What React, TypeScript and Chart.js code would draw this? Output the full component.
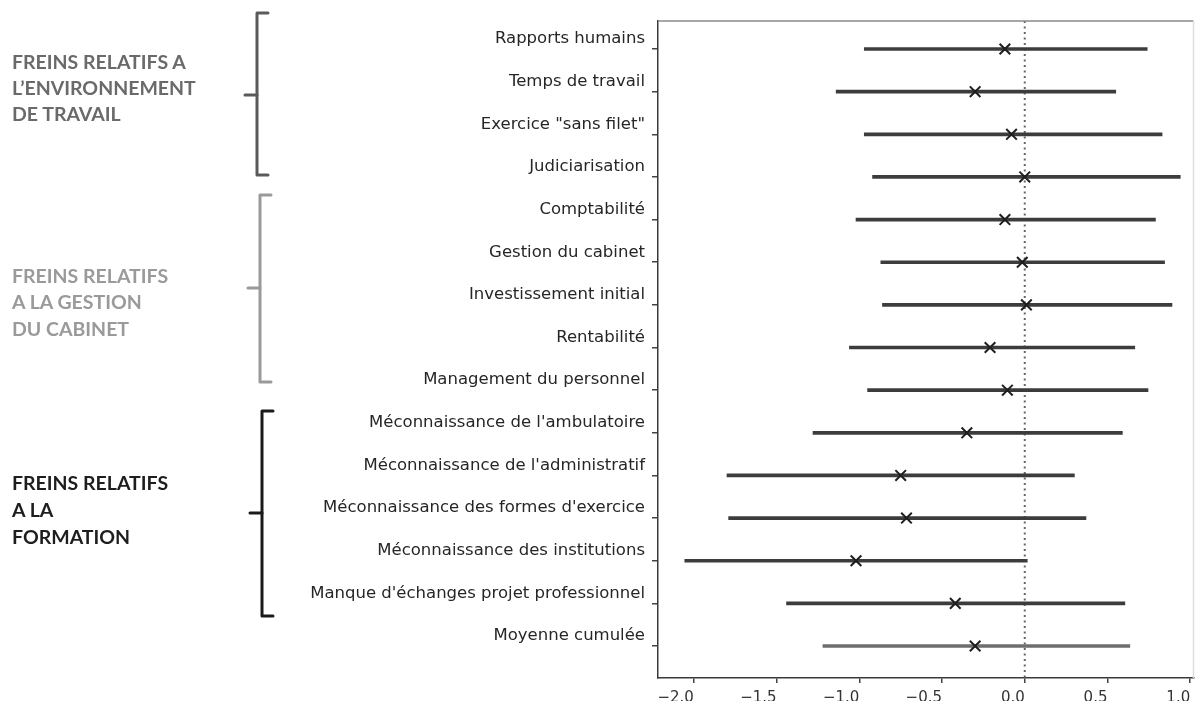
import React, { useEffect, useRef } from "react";
import { Chart, registerables } from "chart.js";

Chart.register(...registerables);

const categories = [
  "Rapports humains",
  "Temps de travail",
  'Exercice "sans filet"',
  "Judiciarisation",
  "Comptabilité",
  "Gestion du cabinet",
  "Investissement initial",
  "Rentabilité",
  "Management du personnel",
  "Méconnaissance de l'ambulatoire",
  "Méconnaissance de l'administratif",
  "Méconnaissance des formes d'exercice",
  "Méconnaissance des institutions",
  "Manque d'échanges projet professionnel",
  "Moyenne cumulée",
];
const means = [-0.12, -0.3, -0.08, 0.0, -0.12, -0.015, 0.01, -0.21, -0.105, -0.35, -0.75, -0.715, -1.02, -0.42, -0.3];
const lows = [-0.97, -1.14, -0.97, -0.92, -1.02, -0.87, -0.86, -1.06, -0.95, -1.28, -1.8, -1.79, -2.055, -1.44, -1.22];
const highs = [0.74, 0.55, 0.83, 0.94, 0.79, 0.845, 0.89, 0.665, 0.745, 0.59, 0.3, 0.37, 0.015, 0.605, 0.635];
const xTicks = [-2.0, -1.5, -1.0, -0.5, 0.0, 0.5, 1.0];

const groupLines = [
  { lines: ["FREINS RELATIFS A", "L\u2019ENVIRONNEMENT", "DE TRAVAIL"], centers: [62, 88, 114], color: "#6a6a6a" },
  { lines: ["FREINS RELATIFS", "A LA GESTION", "DU CABINET"], centers: [276, 302, 329], color: "#9a9a9a" },
  { lines: ["FREINS RELATIFS", "A LA", "FORMATION"], centers: [483, 510, 537], color: "#1e1e1e" },
];
const brackets = [
  { x: 257, top: 13, bottom: 175, mid: 95, color: "#5a5a5a" },
  { x: 260, top: 195, bottom: 382, mid: 288, color: "#9a9a9a" },
  { x: 262, top: 411, bottom: 616, mid: 513, color: "#1a1a1a" },
];

const Y_MIN = -0.657;
const Y_MAX = 14.75;

const framePlugin = {
  id: "frame",
  afterDraw(chart: any) {
    const { ctx, chartArea } = chart;
    ctx.save();
    ctx.strokeStyle = "#8a8a8a";
    ctx.lineWidth = 1.5;
    ctx.beginPath();
    ctx.moveTo(chartArea.left, chartArea.top);
    ctx.lineTo(chartArea.right, chartArea.top);
    ctx.stroke();
    ctx.strokeStyle = "#dddddd";
    ctx.beginPath();
    ctx.moveTo(chartArea.right, chartArea.top);
    ctx.lineTo(chartArea.right, chartArea.bottom);
    ctx.stroke();
    ctx.restore();
  },
};

export default function App() {
  const ref = useRef<HTMLCanvasElement | null>(null);

  useEffect(() => {
    if (!ref.current) return;
    const barData = categories.map((_, i) => ({ x: [lows[i], highs[i]], y: i }));
    const pointData = categories.map((_, i) => ({ x: means[i], y: i }));
    const barColors = categories.map((_, i) => (i === categories.length - 1 ? "#6e6e6e" : "#3c3c3c"));
    const chart = new Chart(ref.current, {
      type: "bar",
      data: {
        datasets: [
          {
            type: "scatter",
            data: [
              { x: 0, y: Y_MIN },
              { x: 0, y: Y_MAX },
            ],
            showLine: true,
            borderColor: "#666",
            borderWidth: 2,
            borderDash: [2, 3.5],
            pointRadius: 0,
            order: 3,
          } as any,
          {
            type: "bar",
            data: barData as any,
            backgroundColor: barColors,
            borderWidth: 0,
            barThickness: 3,
            order: 2,
          } as any,
          {
            type: "scatter",
            data: pointData,
            pointStyle: "crossRot",
            pointRadius: 7.5,
            borderColor: "#1e1e1e",
            borderWidth: 2,
            order: 1,
          } as any,
        ],
      },
      options: {
        indexAxis: "y",
        responsive: false,
        animation: false,
        devicePixelRatio: 1,
        layout: { padding: { top: 21, right: 7, bottom: 0, left: 0 } },
        plugins: { legend: { display: false }, tooltip: { enabled: false } },
        scales: {
          x: {
            type: "linear",
            min: -2.217,
            max: 1.02,
            offset: false,
            beginAtZero: false,
            grace: 0,
            afterBuildTicks: (s: any) => {
              s.ticks = xTicks.map((v) => ({ value: v }));
            },
            afterFit: (s: any) => {
              s.height = 23;
            },
            grid: { offset: false, drawOnChartArea: false, drawTicks: true, tickLength: 5, color: "#444", lineWidth: 1.5 },
            border: { display: true, color: "#3a3a3a", width: 1.5 },
            ticks: {
              align: "end",
              padding: 6,
              color: "#333",
              font: { family: "DejaVu Sans", size: 15 },
              callback: (v: any) => {
                const n = Number(v);
                const s = Math.abs(n).toFixed(1);
                return n < 0 ? "\u2212" + s : s;
              },
            },
          },
          y: {
            type: "linear",
            reverse: true,
            min: Y_MIN,
            max: Y_MAX,
            offset: false,
            beginAtZero: false,
            grace: 0,
            afterBuildTicks: (s: any) => {
              s.ticks = categories.map((_, i) => ({ value: i }));
            },
            afterFit: (s: any) => {
              s.width = 658;
            },
            grid: { offset: false, drawOnChartArea: false, drawTicks: true, tickLength: 6, color: "#444", lineWidth: 1.5 },
            border: { display: true, color: "#3a3a3a", width: 1.5 },
            ticks: {
              padding: 7,
              labelOffset: -10,
              color: "#262626",
              font: { family: "DejaVu Sans", size: 16.5 },
              callback: (v: any) => categories[Math.round(Number(v))] ?? "",
            },
          },
        },
      },
      plugins: [framePlugin],
    } as any);
    return () => chart.destroy();
  }, []);

  return (
    <div style={{ position: "fixed", left: 0, top: 0, width: 1203, height: 701, background: "#fff", overflow: "hidden" }}>
      <canvas ref={ref} width={1203} height={701} style={{ position: "absolute", left: 0, top: 0 }} />
      <svg width={1203} height={701} style={{ position: "absolute", left: 0, top: 0, pointerEvents: "none" }}>
        {brackets.map((b, i) => (
          <g key={i} stroke={b.color} strokeWidth={3} fill="none" strokeLinejoin="round" strokeLinecap="round">
            <path d={`M ${b.x + 11} ${b.top} L ${b.x} ${b.top} L ${b.x} ${b.bottom} L ${b.x + 11} ${b.bottom}`} />
            <path d={`M ${b.x} ${b.mid} L ${b.x - 12} ${b.mid}`} />
          </g>
        ))}
      </svg>
      {groupLines.map((g, gi) =>
        g.lines.map((t, li) => (
          <div
            key={`${gi}-${li}`}
            style={{
              position: "absolute",
              left: 12,
              top: g.centers[li] - 11,
              height: 22,
              lineHeight: "22px",
              fontFamily: "Lato, 'Open Sans', sans-serif",
              fontWeight: 700,
              fontSize: 19.5,
              color: g.color,
              whiteSpace: "nowrap",
            }}
          >
            {t}
          </div>
        ))
      )}
    </div>
  );
}
